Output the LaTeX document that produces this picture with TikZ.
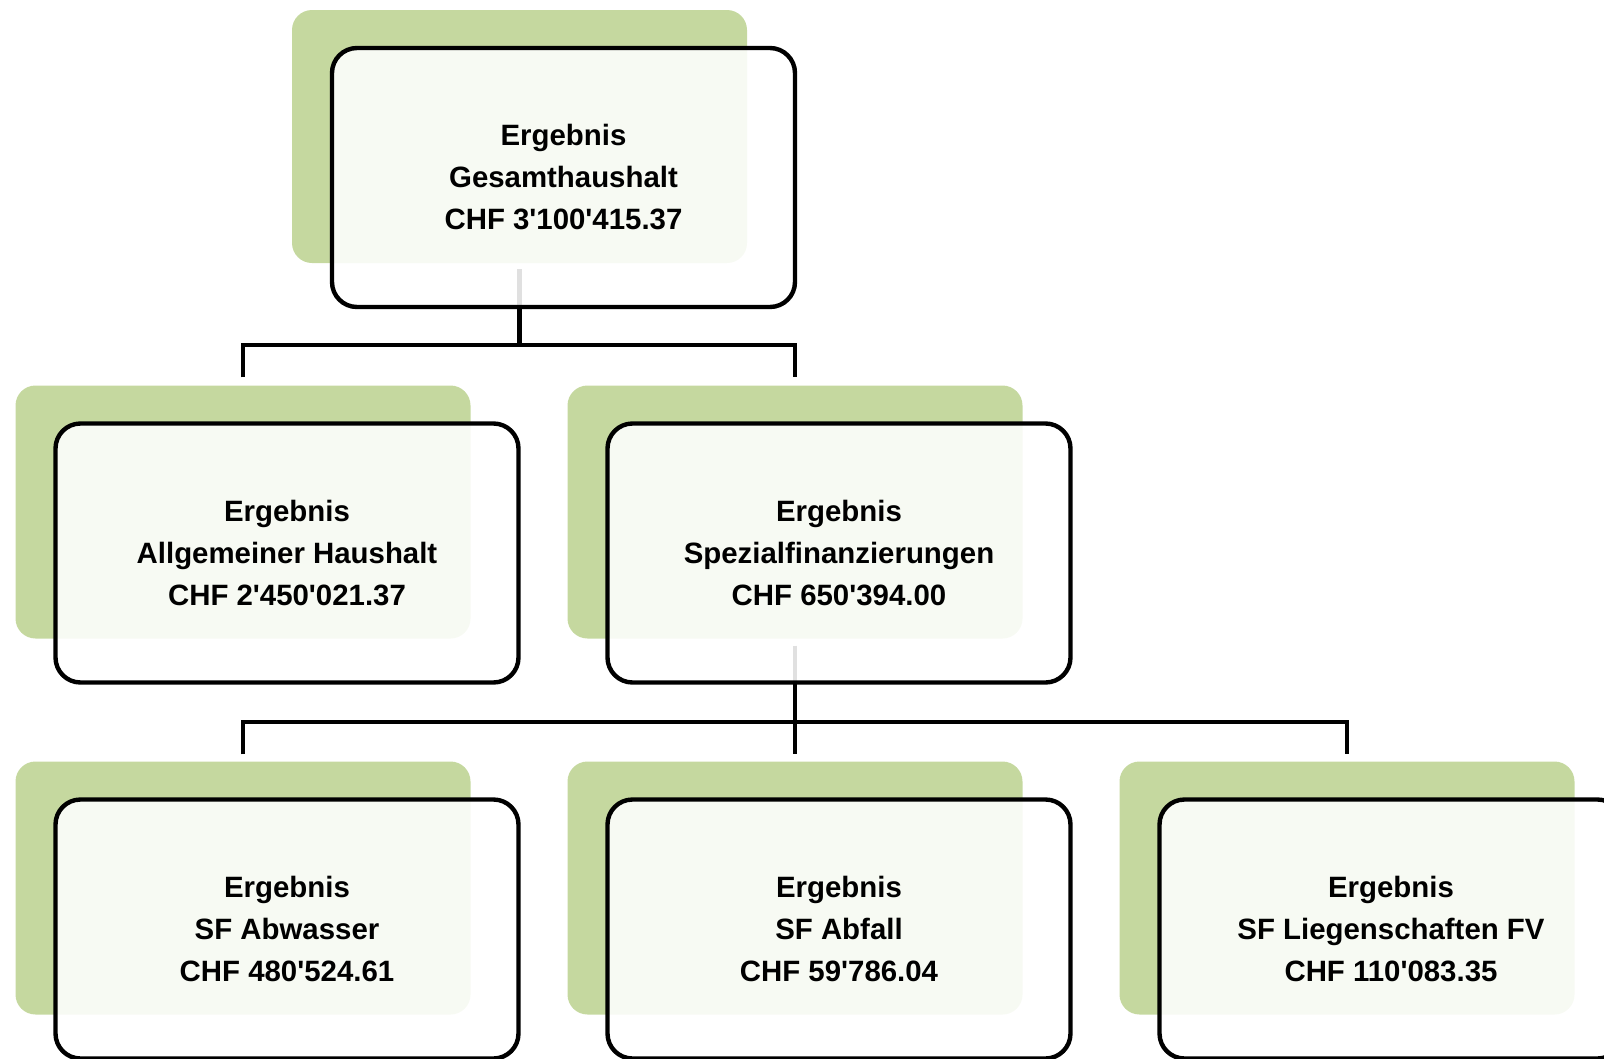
\documentclass[tikz,border=0pt]{standalone}
\usepackage{fontspec}
\setmainfont{Liberation Sans}
\usetikzlibrary{positioning, calc}

\definecolor{leaf}{HTML}{C5D89F}
\newcommand{\q}{\textquotesingle}

\tikzset{
  back/.style={rectangle, rounded corners=20pt, fill=leaf, inner sep=0pt,
    minimum width=455pt, minimum height=253pt},
  front/.style={rectangle, rounded corners=25pt, draw=black, line width=4.4pt,
    fill=white, fill opacity=0.88, text opacity=1, inner sep=0pt,
    minimum width=463pt, minimum height=259pt, align=center,
    font=\fontsize{29.4}{42}\selectfont\bfseries},
  link/.style={draw=black, line width=4.2pt}
}

\begin{document}
\begin{tikzpicture}[x=1pt, y=-1pt, node distance=376pt and 552pt, on grid]
  \clip (0,0) rectangle (1604,1058);
  % green panels
  \node[back] (gesamtbg) at (519.5,136.5) {};
  \node[back] (allgbg) at (243,512) {};
  \node[back] (spezbg) [right=of allgbg] {};
  \node[back] (abwbg) [below=of allgbg] {};
  \node[back] (abfbg) [right=of abwbg] {};
  \node[back] (liegbg) [right=of abfbg] {};

  % connectors
  \coordinate (fork1) at ($(gesamtbg.south)+(0,82)$);
  \draw[link] ($(gesamtbg.south)+(0,6)$) -- (fork1);
  \draw[link] ($(allgbg.north)+(0,-8)$) |- (fork1 -| spezbg.north) -- ($(spezbg.north)+(0,-8)$);
  \coordinate (fork2) at ($(spezbg.south)+(0,83)$);
  \draw[link] ($(spezbg.south)+(0,7)$) -- (fork2);
  \draw[link] ($(abwbg.north)+(0,-7)$) |- (fork2 -| liegbg.north) -- ($(liegbg.north)+(0,-7)$);
  \draw[link] (fork2 -| abfbg.north) -- ($(abfbg.north)+(0,-7)$);

  % boxes
  \node[front] (gesamt) at ($(gesamtbg)+(44,41)$) {Ergebnis\\Gesamthaushalt\\CHF 3\q100\q415.37};
  \node[front] (allg) at ($(allgbg)+(44,41)$) {Ergebnis\\Allgemeiner Haushalt\\CHF 2\q450\q021.37};
  \node[front] (spez) at ($(spezbg)+(44,41)$) {Ergebnis\\Spezialfinanzierungen\\CHF 650\q394.00};
  \node[front] (abw) at ($(abwbg)+(44,41)$) {Ergebnis\\SF Abwasser\\CHF 480\q524.61};
  \node[front] (abf) at ($(abfbg)+(44,41)$) {Ergebnis\\SF Abfall\\CHF 59\q786.04};
  \node[front] (lieg) at ($(liegbg)+(44,41)$) {Ergebnis\\SF Liegenschaften FV\\CHF 110\q083.35};
\end{tikzpicture}
\end{document}
